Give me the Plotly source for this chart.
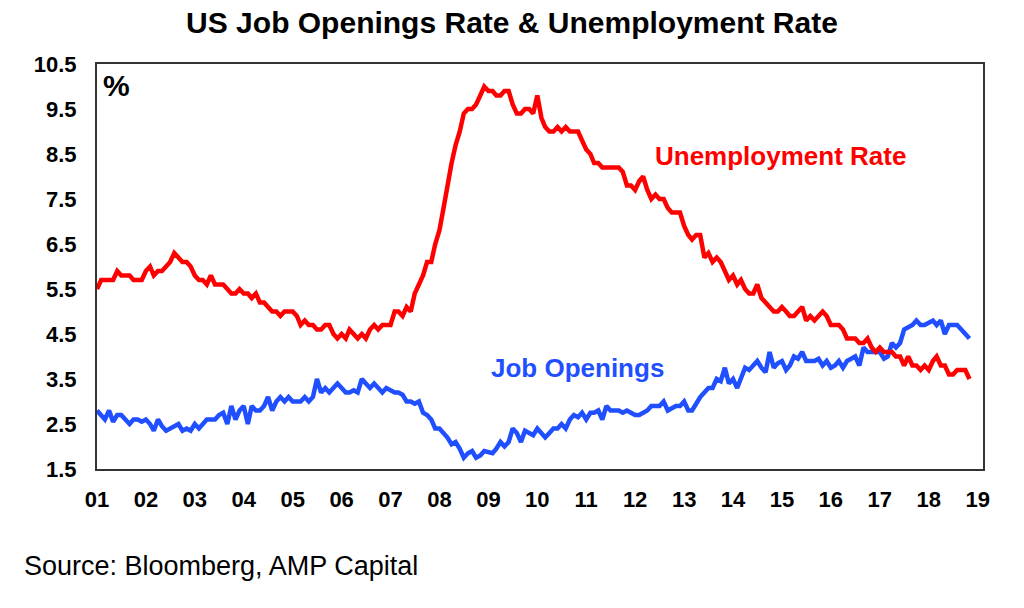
import plotly.graph_objects as go
import pandas as pd

# Monthly series as plotted (215 points, first point at the "01" tick)
unemployment = [
    5.5, 5.7,
    5.7, 5.7, 5.7, 5.9, 5.8, 5.8, 5.8, 5.7, 5.7, 5.7, 5.9, 6.0,
    5.8, 5.9, 5.9, 6.0, 6.1, 6.3, 6.2, 6.1, 6.1, 6.0, 5.8, 5.7,
    5.7, 5.6, 5.8, 5.6, 5.6, 5.6, 5.5, 5.4, 5.4, 5.5, 5.4, 5.4,
    5.3, 5.4, 5.2, 5.2, 5.1, 5.0, 5.0, 4.9, 5.0, 5.0, 5.0, 4.9,
    4.7, 4.8, 4.7, 4.7, 4.6, 4.6, 4.7, 4.7, 4.5, 4.4, 4.5, 4.4,
    4.6, 4.5, 4.4, 4.5, 4.4, 4.6, 4.7, 4.6, 4.7, 4.7, 4.7, 5.0,
    5.0, 4.9, 5.1, 5.0, 5.4, 5.6, 5.8, 6.1, 6.1, 6.5, 6.8, 7.3,
    7.8, 8.3, 8.7, 9.0, 9.4, 9.5, 9.5, 9.6, 9.8, 10.0, 9.9, 9.9,
    9.8, 9.8, 9.9, 9.9, 9.6, 9.4, 9.4, 9.5, 9.5, 9.4, 9.8, 9.3,
    9.1, 9.0, 9.0, 9.1, 9.0, 9.1, 9.0, 9.0, 9.0, 8.8, 8.6, 8.5,
    8.3, 8.3, 8.2, 8.2, 8.2, 8.2, 8.2, 8.1, 7.8, 7.8, 7.7, 7.9,
    8.0, 7.7, 7.5, 7.6, 7.5, 7.5, 7.3, 7.2, 7.2, 7.2, 6.9, 6.7,
    6.6, 6.7, 6.7, 6.2, 6.3, 6.1, 6.2, 6.1, 5.9, 5.7, 5.8, 5.6,
    5.7, 5.5, 5.4, 5.4, 5.6, 5.3, 5.2, 5.1, 5.0, 5.0, 5.1, 5.0,
    4.9, 4.9, 5.0, 5.1, 4.8, 4.9, 4.8, 4.9, 5.0, 4.9, 4.7, 4.7,
    4.7, 4.6, 4.4, 4.4, 4.4, 4.3, 4.3, 4.4, 4.2, 4.1, 4.2, 4.1,
    4.1, 4.1, 4.0, 4.0, 3.8, 4.0, 3.8, 3.8, 3.7, 3.8, 3.7, 3.9,
    4.0, 3.8, 3.8, 3.6, 3.6, 3.7, 3.7, 3.7, 3.5,
]

job_openings = [
    2.8, 2.7, 2.6, 2.8, 2.55, 2.7, 2.7, 2.6, 2.5, 2.6, 2.6, 2.55,
    2.6, 2.5, 2.35, 2.6, 2.45, 2.35, 2.4, 2.45, 2.5, 2.35, 2.4, 2.35,
    2.5, 2.4, 2.5, 2.6, 2.6, 2.6, 2.7, 2.75, 2.5, 2.9, 2.6, 2.8,
    2.9, 2.5, 2.9, 2.8, 2.8, 2.9, 3.1, 2.8, 3.0, 3.1, 3.0, 3.1,
    3.0, 3.0, 3.0, 3.1, 3.0, 3.1, 3.5, 3.2, 3.3, 3.2, 3.3, 3.4,
    3.3, 3.2, 3.2, 3.25, 3.2, 3.5, 3.4, 3.3, 3.4, 3.3, 3.2, 3.3,
    3.25, 3.2, 3.2, 3.15, 3.0, 3.0, 2.95, 3.0, 2.75, 2.7, 2.6, 2.4,
    2.4, 2.3, 2.2, 2.05, 2.1, 1.95, 1.75, 1.85, 1.9, 1.75, 1.8, 1.9,
    1.88, 1.85, 1.95, 2.1, 2.0, 2.1, 2.4, 2.3, 2.1, 2.35, 2.3, 2.25,
    2.4, 2.3, 2.2, 2.3, 2.4, 2.4, 2.5, 2.4, 2.6, 2.7, 2.65, 2.75,
    2.6, 2.75, 2.75, 2.8, 2.6, 2.9, 2.8, 2.8, 2.8, 2.75, 2.8, 2.75,
    2.7, 2.7, 2.75, 2.8, 2.9, 2.9, 2.9, 3.0, 2.8, 2.85, 2.9, 2.9,
    3.0, 2.8, 2.8, 2.95, 3.1, 3.2, 3.3, 3.3, 3.5, 3.45, 3.75, 3.4,
    3.5, 3.3, 3.5, 3.75, 3.7, 3.8, 3.9, 3.75, 3.65, 4.1, 3.75, 3.85,
    3.9, 3.7, 3.8, 4.0, 3.95, 4.1, 3.9, 3.9, 3.9, 3.95, 3.8, 3.9,
    3.75, 3.8, 3.9, 3.75, 3.9, 3.95, 4.0, 3.8, 4.2, 4.1, 4.1, 4.1,
    4.1, 3.95, 4.0, 4.3, 4.2, 4.3, 4.6, 4.65, 4.7, 4.8, 4.7, 4.7,
    4.75, 4.8, 4.7, 4.8, 4.5, 4.7, 4.7, 4.7, 4.6, 4.5, 4.4,
]

months = pd.date_range("2001-01-01", periods=len(unemployment), freq="MS")
year_ticks = [f"{y}-01-01" for y in range(2001, 2020)]

title_text = "US Job Openings Rate & Unemployment Rate"
source_text = "Source: Bloomberg, AMP Capital"

RED = "#FF0000"
BLUE = "#1F4FFF"
FONT = "Liberation Sans, Arial, sans-serif"

fig = go.Figure()
fig.add_trace(go.Scatter(x=months, y=job_openings, mode="lines",
                         line=dict(color=BLUE, width=4.5), name="Job Openings"))
fig.add_trace(go.Scatter(x=months, y=unemployment, mode="lines",
                         line=dict(color=RED, width=4.5), name="Unemployment Rate"))

fig.update_layout(
    width=1024, height=608,
    margin=dict(l=97, r=41, t=64, b=139),
    paper_bgcolor="white", plot_bgcolor="white",
    showlegend=False,
    font=dict(family=FONT, color="black"),
    title=dict(text=title_text, x=0.5, xref="container", xanchor="center",
               y=1 - 22 / 608, yref="container", yanchor="middle",
               font=dict(size=30, weight=700, color="black")),
)

fig.update_xaxes(
    type="date", range=["2001-01-01", "2019-02-10"],
    tickvals=year_ticks, tickformat="%y",
    showgrid=False, zeroline=False,
    showline=True, linecolor="#333333", linewidth=2, mirror=True,
    ticks="", ticklabelstandoff=10,
    tickfont=dict(size=22, weight=700, color="black"),
)
fig.update_yaxes(
    range=[1.5, 10.5], tick0=1.5, dtick=1, tickformat=".1f",
    showgrid=False, zeroline=False,
    showline=True, linecolor="#333333", linewidth=2, mirror=True,
    ticks="", ticklabelstandoff=14,
    tickfont=dict(size=22, weight=700, color="black"),
)

fig.add_annotation(text="%", xref="paper", yref="paper", x=0.004, y=0.946,
                   xanchor="left", yanchor="middle", showarrow=False,
                   font=dict(size=30, weight=700, color="black"))
fig.add_annotation(text="Unemployment Rate", xref="paper", yref="paper",
                   x=0.772, y=0.773, xanchor="center", yanchor="middle",
                   showarrow=False, font=dict(size=26, weight=700, color=RED))
fig.add_annotation(text="Job Openings", xref="paper", yref="paper",
                   x=0.542, y=0.249, xanchor="center", yanchor="middle",
                   showarrow=False, font=dict(size=26, weight=700, color=BLUE))
fig.add_annotation(text=source_text, xref="paper", yref="paper",
                   x=(22 - 97) / 886, y=(469 - 566) / 405,
                   xanchor="left", yanchor="middle", showarrow=False,
                   font=dict(size=27, color="black"))

fig.write_html("out.html",
               config={"displayModeBar": False},
               post_script="document.body.style.margin='0';document.body.style.overflow='hidden';")
